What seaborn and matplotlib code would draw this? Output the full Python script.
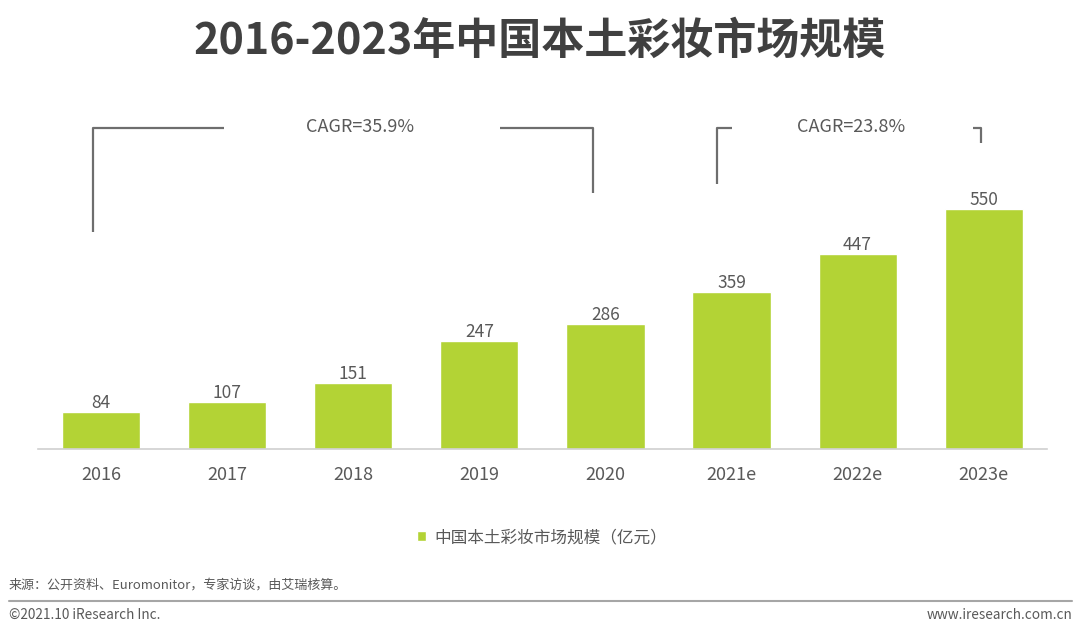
import matplotlib
matplotlib.use("Agg")
import matplotlib.pyplot as plt
import seaborn as sns
import pandas as pd

# data
years = ['2016', '2017', '2018', '2019', '2020', '2021e', '2022e', '2023e']
market_size = [84, 107, 151, 247, 286, 359, 447, 550]
series_name = '中国本土彩妆市场规模（亿元）'
cagr_labels = ['CAGR=35.9%', 'CAGR=23.8%']

BAR_GREEN = '#B3D335'
TEXT_GRAY = '#595959'
LINE_GRAY = '#6E6E6E'

sns.set_theme(style='white')
plt.rcParams['font.family'] = ['Noto Sans CJK SC', 'DejaVu Sans']

df = pd.DataFrame({'year': years, 'value': market_size})

fig = plt.figure(figsize=(10.8, 6.35), dpi=100)
ax = fig.add_axes([0.0352, 0.2929, 0.934, 0.5496])

sns.barplot(data=df, x='year', y='value', color=BAR_GREEN, width=0.62,
            saturation=1, ax=ax, label=series_name)
ax.set_ylim(0, 800)
ax.set_xlim(-0.5, 7.5)

for s in ['top', 'right', 'left']:
    ax.spines[s].set_visible(False)
ax.spines['bottom'].set_color('#D0D0D0')
ax.spines['bottom'].set_linewidth(1.2)
ax.set_yticks([])
ax.set_xlabel('')
ax.set_ylabel('')
ax.tick_params(axis='x', length=0, pad=12, labelsize=13, labelcolor=TEXT_GRAY)

ax.bar_label(ax.containers[0], fontsize=12.5, color=TEXT_GRAY, padding=0)

# CAGR brackets
def bracket(x0, x1, x2, x3, yl, yr, label, xt):
    top = 736
    kw = dict(color=LINE_GRAY, lw=1.6, clip_on=False, solid_capstyle='butt')
    ax.plot([x0, x0, x1], [yl, top, top], **kw)
    ax.plot([x2, x3, x3], [top, top, yr], **kw)
    ax.text(xt, top + 3, label, ha='center', va='center', fontsize=13,
            color=TEXT_GRAY)

bracket(-0.063, 0.976, 3.167, 3.905, 498, 587, cagr_labels[0], 2.056)
bracket(4.881, 5.0, 6.913, 6.976, 608, 702, cagr_labels[1], 5.952)

# legend
leg = ax.legend(loc='center', bbox_to_anchor=(0.5, -0.254), frameon=False,
                fontsize=12, handlelength=0.55, handleheight=0.55,
                handletextpad=0.5, labelcolor=TEXT_GRAY)

fig.text(0.5, 0.935, '2016-2023年中国本土彩妆市场规模', ha='center', va='center',
         fontsize=31, fontweight='bold', color='#404040')

fig.text(0.008, 0.078, '来源：公开资料、Euromonitor，专家访谈，由艾瑞核算。',
         fontsize=9.4, color=TEXT_GRAY, va='center')
fig.add_artist(plt.Line2D([0.008, 0.993], [0.054, 0.054], color='#A6A6A6',
                          lw=1.5))
fig.text(0.008, 0.032, '©2021.10 iResearch Inc.', fontsize=9.8,
         color=TEXT_GRAY, va='center')
fig.text(0.993, 0.032, 'www.iresearch.com.cn', fontsize=9.8,
         color=TEXT_GRAY, va='center', ha='right')

fig.savefig('out.png', dpi=100, facecolor='white')
